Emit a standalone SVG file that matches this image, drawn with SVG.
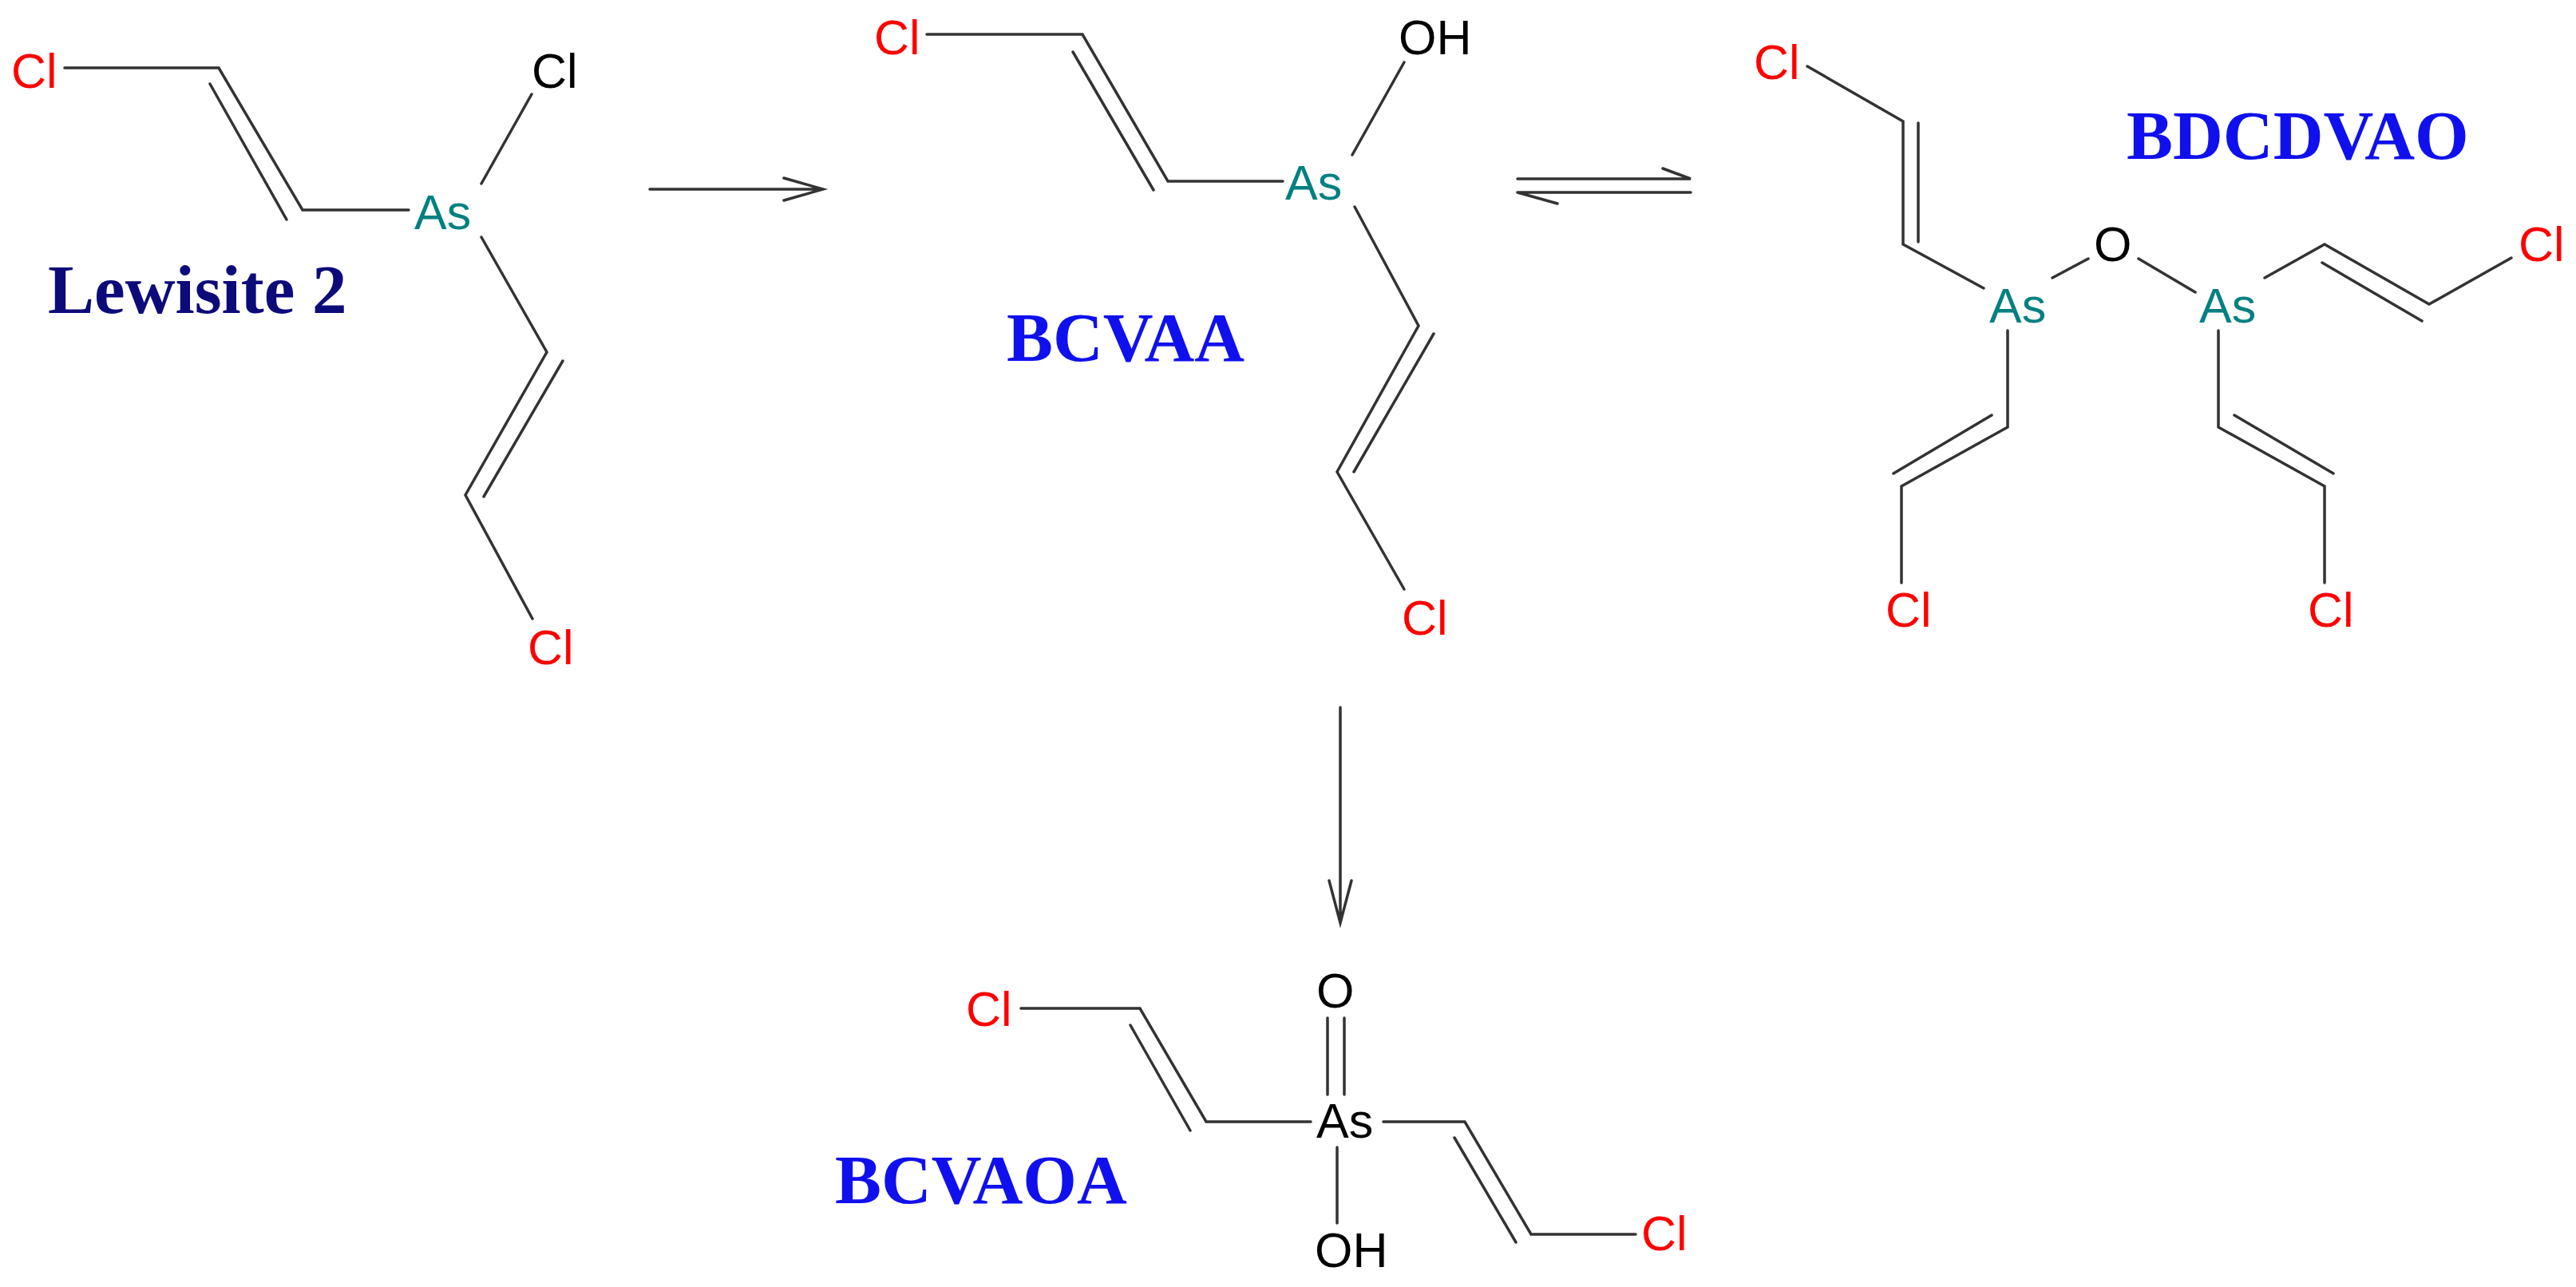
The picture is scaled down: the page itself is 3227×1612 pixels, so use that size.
<svg xmlns="http://www.w3.org/2000/svg" width="3227" height="1612" viewBox="0 0 3227 1612">
<style>
.b{stroke:#333;stroke-width:3.5;fill:none;stroke-linecap:round}
.a{font-family:"Liberation Sans",Arial,sans-serif;font-size:61px}
.cl{fill:#ff0000}.as{fill:#008080}.k{fill:#000}
.lab{font-family:"Liberation Serif","Times New Roman",serif;font-weight:bold;font-size:87px;fill:#1010ee}
</style>
<rect width="3227" height="1612" fill="#fff"/>
<g id="lewisite2">
<path class="b" d="M81 85H274L379 263H512M263 105L359 275M603 230L666 118M603 297L685 441L583 620L667 775M705 452L606 622"/>
<text class="a cl" x="14" y="110">Cl</text>
<text class="a as" x="519" y="287">As</text>
<text class="a k" x="666" y="110">Cl</text>
<text class="a cl" x="661" y="832">Cl</text>
<text class="lab" x="60" y="392" style="fill:#0b0b7a">Lewisite 2</text>
</g>
<g id="BCVAA">
<path class="b" d="M1161 43H1356L1463 227H1607M1344 65L1445 238M1694 194L1759 78M1697 259L1777 408L1675 591L1759 738M1796 418L1696 591"/>
<text class="a cl" x="1095" y="68">Cl</text>
<text class="a as" x="1610" y="250">As</text>
<text class="a k" x="1752" y="68">OH</text>
<text class="a cl" x="1756" y="795">Cl</text>
<text class="lab" x="1261" y="452">BCVAA</text>
</g>
<g id="BDCDVAO">
<path class="b" d="M2264 83L2384 152V306L2485 361M2403 154V303M2571 348L2616 324M2679 324L2750 366M2837 348L2912 306L3043 381L3146 323M2909 329L3034 402M2515 414V535L2382 609V730M2495 520L2372 593M2779 414V535L2912 609V730M2799 520L2923 593"/>
<text class="a cl" x="2197" y="99">Cl</text>
<text class="a as" x="2492" y="404">As</text>
<text class="a k" x="2623" y="327">O</text>
<text class="a as" x="2755" y="404">As</text>
<text class="a cl" x="3155" y="327">Cl</text>
<text class="a cl" x="2362" y="785">Cl</text>
<text class="a cl" x="2891" y="785">Cl</text>
<text class="lab" x="2664" y="199">BDCDVAO</text>
</g>
<g id="BCVAOA">
<path class="b" d="M1279 1263H1428L1511 1405H1642M1416 1284L1491 1416M1663 1275V1371M1684 1275V1371M1733 1405H1835L1918 1546H2049M1822 1425L1899 1556M1675 1437V1532"/>
<text class="a cl" x="1210" y="1285">Cl</text>
<text class="a k" x="1649" y="1262">O</text>
<text class="a k" x="1649" y="1425">As</text>
<text class="a k" x="1647" y="1587">OH</text>
<text class="a cl" x="2056" y="1566">Cl</text>
<text class="lab" x="1046" y="1507">BCVAOA</text>
</g>
<g id="connectors">
<path class="b" d="M814 237H1031M982 223L1031 237L982 251"/>
<path class="b" d="M1901 224H2118L2083 211M1901 241H2118M1901 241L1951 255"/>
<path class="b" d="M1679 886V1156M1665 1103L1679 1156L1693 1103"/>
</g>
</svg>
